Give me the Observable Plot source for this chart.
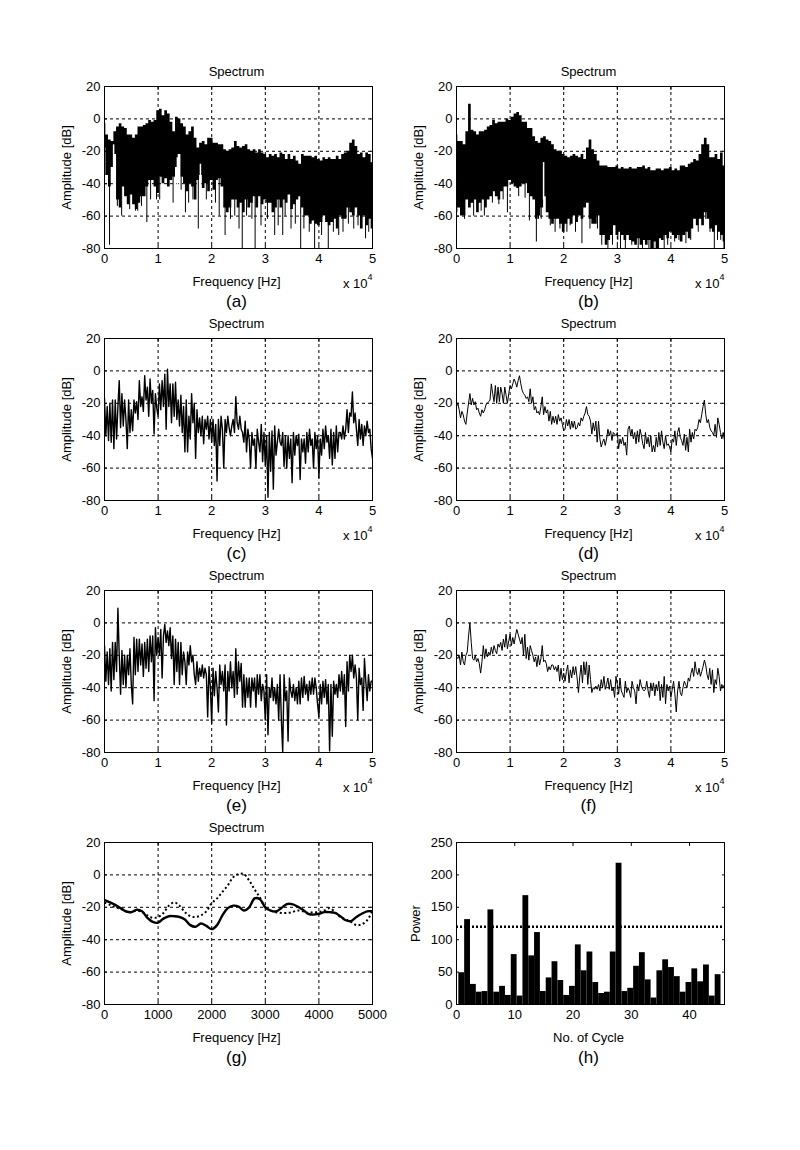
<!DOCTYPE html>
<html>
<head>
<meta charset="utf-8">
<script src="https://cdn.jsdelivr.net/npm/d3@7"></script>
<script src="https://cdn.jsdelivr.net/npm/@observablehq/plot@0.6"></script>
<style>
html,body{margin:0;padding:0;background:#fff}
#page{position:relative;width:800px;height:1150px;background:#fff;overflow:hidden}
#page svg{position:absolute;overflow:visible}
</style>
</head>
<body>
<div id="page"></div>
<script>
// Envelope values every 500 Hz, panel (a)
const aUpper = [-3,-10,-13,-14,-8,-5,-3,-5,-6,-10,-10,-12,-10,-5,-5,-4,-3,-1,-2,-1,5,6,2,5,3,-2,-8,1,0,-3,-5,-10,-8,-5,-12,-18,-15,-14,-16,-12,-12,-15,-15,-16,-16,-19,-20,-19,-18,-14,-17,-18,-17,-16,-19,-20,-19,-21,-19,-21,-22,-24,-22,-23,-22,-24,-21,-22,-25,-22,-25,-23,-26,-28,-22,-23,-23,-23,-24,-23,-25,-26,-24,-25,-24,-25,-25,-23,-25,-22,-21,-20,-15,-13,-17,-22,-21,-24,-21,-22,-27];
const aLower = [-18,-35,-42,-30,-22,-50,-55,-42,-48,-53,-47,-53,-56,-52,-48,-48,-42,-38,-38,-42,-46,-36,-40,-37,-42,-38,-36,-30,-22,-36,-40,-45,-40,-42,-50,-38,-35,-43,-40,-45,-38,-44,-38,-37,-42,-55,-58,-55,-50,-50,-55,-52,-58,-50,-55,-52,-48,-55,-48,-53,-50,-52,-52,-58,-55,-50,-55,-50,-52,-47,-56,-53,-50,-48,-55,-60,-60,-65,-63,-65,-66,-64,-60,-64,-66,-64,-62,-68,-60,-62,-62,-55,-58,-60,-55,-60,-68,-60,-66,-62,-68];
const aSpikeF = [940,7900,17500,15100,22500,25700,28100,31750,36600,39200,41750,43700,48700,21400,25100,27500,33250,34800,2400,3200,4700,5800,6200,6900,8600,9700,10300,12800,14300,15700,16500,19000,20700,23500,24300,26500,29200,30400,32400,33700,35600,37200,38200,40500,42700,44500,45500,46500,47300,49300];
const aSpikeV = [-78,-64,-68,-58,-72,-80,-80,-72,-80,-80,-80,-72,-74,-60,-68,-62,-72,-68,-54,-60,-56,-57,-57,-54,-50,-50,-50,-52,-44,-52,-50,-50,-52,-62,-60,-60,-66,-62,-66,-60,-65,-68,-70,-72,-70,-70,-65,-68,-66,-70];
const aNotchF = [1700,13600,17900];
const aNotchTop = [-16,-24,-28];
const aNotchBottom = [-42,-42,-50];

// Envelope values every 500 Hz, panel (b)
const bUpper = [-10,-14,-14,-16,-8,9,-7,-8,-10,-8,-8,-7,-5,-4,-1,-3,-2,-2,-2,0,-1,1,3,4,2,-2,-2,-6,-6,-11,-14,-15,-12,-11,-13,-14,-16,-19,-20,-20,-22,-23,-24,-23,-22,-23,-24,-22,-25,-18,-13,-19,-22,-26,-29,-29,-29,-30,-30,-30,-29,-31,-30,-31,-31,-30,-31,-31,-30,-30,-29,-31,-30,-32,-32,-31,-31,-32,-31,-31,-30,-32,-31,-32,-29,-29,-30,-28,-27,-25,-26,-22,-16,-12,-16,-24,-24,-22,-25,-21,-29];
const bLower = [-58,-55,-60,-60,-50,-55,-52,-50,-58,-52,-50,-55,-50,-48,-45,-48,-50,-45,-42,-42,-38,-40,-42,-43,-42,-40,-40,-46,-48,-50,-62,-60,-55,-48,-58,-62,-65,-62,-62,-65,-70,-65,-62,-65,-60,-64,-60,-62,-55,-52,-62,-65,-65,-60,-72,-72,-78,-75,-72,-66,-72,-70,-72,-75,-72,-75,-76,-78,-74,-78,-75,-78,-75,-80,-76,-80,-74,-75,-72,-74,-70,-72,-74,-72,-76,-72,-70,-74,-68,-62,-66,-62,-66,-58,-62,-68,-70,-66,-70,-72,-76];
const bSpikeF = [14900,13600,9500,23400,28250,38750,48100,49900,30600,35900,20600,15800,1500,3200,4600,5200,6700,7900,8700,11600,12800,15300,17500,18400,19300,21200,22200,24900,26300,27100,29100,30100,31500,32700,33900,34700,36800,37700,39400,40700,41500,42800,43700,45100,46500,47300,48700,49300];
const bSpikeV = [-76,-63,-58,-77,-80,-80,-80,-80,-80,-80,-70,-62,-62,-60,-57,-60,-52,-53,-50,-48,-49,-62,-66,-70,-68,-66,-70,-68,-68,-78,-78,-75,-80,-78,-80,-80,-80,-80,-78,-76,-75,-77,-75,-70,-62,-70,-75,-75];
const bNotchF = [16250];
const bNotchTop = [-27];
const bNotchBottom = [-50];

// Line values every 250 Hz
const cVals = [-17,-40,-22,-43,-20,-44,-18,-48,-18,-42,-22,-6,-35,-14,-34,-18,-30,-48,-18,-38,-24,-37,-18,-26,-19,-30,-6,-22,-16,-25,-3,-18,-10,-28,-5,-20,-12,-39,-14,-23,-28,-8,-24,-6,-22,-2,-36,1,-22,-8,-32,-8,-28,-7,-30,-18,-34,-15,-38,-22,-50,-18,-50,-28,-42,-14,-32,-20,-54,-24,-38,-29,-40,-28,-45,-30,-36,-28,-42,-30,-44,-30,-46,-33,-68,-30,-46,-28,-36,-60,-30,-38,-28,-35,-40,-34,-30,-38,-16,-32,-36,-28,-36,-38,-44,-31,-50,-36,-42,-60,-38,-46,-42,-60,-36,-44,-50,-33,-56,-38,-58,-40,-78,-38,-62,-37,-73,-34,-52,-44,-36,-44,-46,-38,-59,-40,-60,-40,-54,-42,-69,-38,-52,-40,-46,-39,-67,-42,-50,-42,-57,-38,-50,-36,-46,-42,-60,-38,-48,-40,-66,-42,-52,-36,-48,-34,-44,-40,-54,-36,-58,-38,-54,-34,-50,-38,-38,-42,-34,-42,-36,-24,-38,-26,-28,-13,-32,-26,-36,-46,-30,-42,-33,-46,-34,-40,-31,-38,-36,-48,-54];
const dVals = [-22,-20,-24,-29,-25,-27,-31,-33,-26,-20,-14,-21,-17,-21,-19,-24,-23,-26,-28,-24,-26,-24,-21,-20,-19,-18,-8,-14,-19,-9,-20,-10,-19,-10,-14,-20,-10,-15,-20,-14,-9,-11,-8,-5,-7,-10,-6,-3,-8,-12,-14,-15,-17,-16,-19,-11,-20,-16,-24,-22,-26,-25,-27,-22,-16,-27,-22,-26,-24,-31,-25,-33,-28,-32,-28,-33,-27,-31,-29,-33,-37,-36,-30,-34,-30,-36,-31,-35,-31,-36,-35,-32,-34,-29,-31,-28,-26,-22,-27,-28,-31,-39,-32,-37,-31,-44,-31,-42,-47,-44,-42,-46,-42,-36,-40,-37,-43,-38,-39,-40,-38,-48,-42,-45,-41,-46,-44,-52,-36,-34,-40,-36,-42,-38,-45,-37,-44,-36,-40,-45,-48,-38,-45,-41,-47,-40,-50,-46,-50,-41,-47,-38,-46,-37,-44,-48,-40,-46,-45,-47,-50,-42,-44,-37,-46,-38,-35,-41,-43,-46,-39,-49,-41,-50,-36,-44,-38,-42,-36,-37,-35,-30,-32,-27,-22,-18,-27,-32,-30,-35,-37,-38,-40,-33,-41,-29,-33,-38,-42,-38,-43];
const eVals = [-14,-36,-18,-38,-16,-42,-12,-35,-12,-30,9,-20,-44,-17,-38,-20,-40,-20,-32,-16,-38,-50,-9,-32,-10,-30,-10,-26,-13,-33,-12,-28,-10,-30,-8,-24,-8,-48,-3,-20,-9,-20,-4,-34,-8,-1,-12,-5,-14,-3,-22,-8,-38,-10,-30,-12,-38,-12,-32,-18,-24,-38,-18,-26,-14,-24,-20,-32,-38,-24,-36,-28,-33,-26,-34,-28,-32,-58,-27,-40,-62,-28,-45,-30,-40,-55,-26,-38,-30,-42,-26,-63,-30,-42,-24,-40,-30,-46,-16,-44,-24,-36,-25,-52,-32,-52,-34,-46,-34,-52,-34,-42,-34,-52,-32,-44,-32,-48,-38,-42,-60,-32,-69,-40,-46,-34,-48,-40,-50,-38,-60,-32,-60,-80,-32,-48,-42,-73,-34,-42,-46,-38,-48,-40,-50,-36,-50,-34,-46,-33,-44,-38,-48,-36,-44,-34,-44,-34,-40,-50,-58,-38,-50,-36,-46,-35,-50,-38,-79,-38,-70,-36,-44,-38,-46,-32,-42,-30,-44,-32,-64,-24,-42,-20,-30,-20,-34,-26,-34,-60,-28,-38,-34,-54,-22,-36,-48,-32,-42,-36,-36];
const fVals = [-21,-22,-20,-26,-18,-24,-26,-20,-18,-8,0,-12,-22,-23,-20,-24,-22,-25,-31,-24,-14,-22,-16,-21,-18,-20,-15,-19,-14,-17,-19,-13,-15,-12,-17,-10,-15,-7,-16,-11,-7,-14,-9,-13,-8,-4,-7,-10,-13,-9,-20,-7,-22,-15,-23,-14,-17,-20,-24,-21,-27,-20,-26,-22,-14,-24,-23,-25,-30,-27,-29,-26,-26,-29,-27,-30,-26,-36,-28,-35,-31,-36,-30,-26,-37,-29,-34,-27,-32,-27,-34,-43,-33,-26,-37,-24,-32,-24,-38,-26,-35,-43,-40,-41,-39,-41,-38,-42,-35,-40,-33,-41,-38,-34,-41,-35,-42,-40,-46,-33,-38,-44,-34,-42,-44,-46,-36,-43,-40,-42,-46,-36,-40,-42,-50,-38,-42,-35,-39,-41,-42,-41,-36,-42,-46,-37,-42,-37,-45,-38,-42,-36,-48,-38,-46,-33,-50,-38,-42,-39,-46,-41,-36,-44,-55,-42,-36,-43,-45,-40,-36,-38,-40,-34,-36,-31,-28,-33,-24,-30,-32,-28,-33,-30,-27,-23,-26,-32,-35,-28,-38,-29,-43,-35,-38,-28,-33,-42,-38,-40,-38];

// Line values every 100 Hz, panel (g)
const gSolid = [-15.5,-17,-18.5,-20.5,-22.5,-23,-21.5,-22.5,-26.5,-29,-29.5,-27,-25.5,-25.5,-26,-27.5,-31,-32,-30,-31.5,-33.5,-31,-25,-20.5,-19,-19.5,-22,-20,-14.5,-15,-20,-22,-22.5,-20.5,-18,-18,-19.5,-21.5,-24,-24.5,-24,-23,-23,-23.5,-25.5,-28,-28.5,-26,-24,-22.5,-22.5];
const gDotted = [-17,-18.5,-20,-21,-22.5,-23,-22,-23,-25,-26.5,-26,-23.5,-19,-17,-19,-23,-25.5,-26,-25,-22.5,-17.5,-14.5,-10.5,-6.5,-1.5,0.5,0.5,-3.5,-9,-14,-20,-22,-23,-23.5,-23.5,-23,-22,-22.5,-23.5,-23,-23,-22,-20.5,-23,-26,-27.5,-29,-31,-30.5,-28,-22];

// Bars, panel (h)
const hCycle = d3.range(1, 46);
const hPower = [49,131,31,19,20,146,19,28,14,77,13,168,75,111,20,41,66,37,14,28,92,52,81,34,17,19,81,218,20,25,59,80,38,10,52,69,57,43,19,34,55,35,61,13,46];
const hThreshold = 120;

const dbTicks = [-80,-60,-40,-20,0,20];
const hzTicks = [0,10000,20000,30000,40000,50000];
const lowTicks = [0,1000,2000,3000,4000,5000];
const cycleTicks = [0,10,20,30,40];
const powerTicks = [0,50,100,150,200,250];

const FONT = "'Liberation Sans', Arial, sans-serif";
const blank = () => "";

function tbl(arr, step) { return arr.map((v, i) => ({f: i * step, v})); }
function env(up, low) { return up.map((u, i) => ({f: i * 500, u, l: low[i]})); }

function axes(xTicks, yTicks, fmt, grid) {
  const m = [];
  if (grid) {
    const g = {stroke: "black", strokeOpacity: 1, strokeWidth: 1, strokeDasharray: "3,3"};
    m.push(Plot.gridX(xTicks.slice(1, -1), g));
    m.push(Plot.gridY(yTicks.slice(1, -1), g));
  }
  return {under: m, over: [
    Plot.axisX(xTicks, {anchor: "bottom", tickSize: -3, tickPadding: 8, tickFormat: fmt, label: null, fontSize: 13}),
    Plot.axisX(xTicks, {anchor: "top", tickSize: -3, tickFormat: blank, label: null}),
    Plot.axisY(yTicks, {anchor: "left", tickSize: -3, tickPadding: 7, tickFormat: String, label: null, fontSize: 13}),
    Plot.axisY(yTicks, {anchor: "right", tickSize: -3, tickFormat: blank, label: null}),
    Plot.frame({stroke: "black", strokeWidth: 1})
  ]};
}

function panel(col, row, o) {
  const a = axes(o.xTicks, o.yTicks, o.fmt, o.grid);
  const texts = [
    Plot.text([o.xLabel], {frameAnchor: "bottom", dx: -2, dy: 33, lineAnchor: "middle", fontSize: 13}),
    Plot.text([o.yLabel], {frameAnchor: "left", dx: o.yDx, rotate: -90, textAnchor: "middle", fontSize: 13}),
    Plot.text([o.caption], {frameAnchor: "bottom", dx: -2, dy: 53, lineAnchor: "middle", fontSize: 17})
  ];
  if (o.title) texts.push(Plot.text([o.title], {frameAnchor: "top", dx: -2, dy: -15, lineAnchor: "middle", fontSize: 13}));
  if (o.exp) {
    texts.push(Plot.text(["x 10"], {frameAnchor: "bottom-right", dx: -5, dy: 35, textAnchor: "end", lineAnchor: "middle", fontSize: 13}));
    texts.push(Plot.text(["4"], {frameAnchor: "bottom-right", dx: 0, dy: 29, textAnchor: "end", lineAnchor: "middle", fontSize: 9}));
  }
  const svg = Plot.plot({
    width: 352, height: 252,
    marginLeft: 52, marginRight: 32, marginTop: 32, marginBottom: 58,
    x: {domain: o.xDomain, label: null, axis: null},
    y: {domain: o.yDomain, label: null, axis: null},
    style: {fontFamily: FONT, fontSize: "13px", background: "transparent", color: "black", overflow: "visible"},
    marks: [...a.under, ...o.marks, ...a.over, ...texts]
  });
  svg.style.left = (col === 0 ? 52 : 404) + "px";
  svg.style.top = (54 + row * 252) + "px";
  document.getElementById("page").appendChild(svg);
}

const specBase = {xTicks: hzTicks, yTicks: dbTicks, fmt: d => String(d / 10000), grid: true, xDomain: [0, 50000], yDomain: [-80, 20],
  title: "Spectrum", xLabel: "Frequency [Hz]", yLabel: "Amplitude [dB]", yDx: -38, exp: true};

function envMarks(up, low, sf, sv, nf, nt, nb) {
  return [
    Plot.areaY(env(up, low), {x: "f", y1: "l", y2: "u", fill: "black", curve: "step", clip: true}),
    Plot.ruleX(sf.map((f, i) => ({f, v: sv[i]})), {x: "f", y1: "v", y2: -36, stroke: "black", strokeWidth: 1, clip: true}),
    Plot.ruleX(nf.map((f, i) => ({f, t: nt[i], b: nb[i]})), {x: "f", y1: "b", y2: "t", stroke: "white", strokeWidth: 1.5, clip: true})
  ];
}
function lineMark(vals, w) {
  return [Plot.line(tbl(vals, 250), {x: "f", y: "v", stroke: "black", strokeWidth: w, clip: true})];
}

panel(0, 0, {...specBase, caption: "(a)", marks: envMarks(aUpper, aLower, aSpikeF, aSpikeV, aNotchF, aNotchTop, aNotchBottom)});
panel(1, 0, {...specBase, caption: "(b)", marks: envMarks(bUpper, bLower, bSpikeF, bSpikeV, bNotchF, bNotchTop, bNotchBottom)});
panel(0, 1, {...specBase, caption: "(c)", marks: lineMark(cVals, 1.4)});
panel(1, 1, {...specBase, caption: "(d)", marks: lineMark(dVals, 1)});
panel(0, 2, {...specBase, caption: "(e)", marks: lineMark(eVals, 1.4)});
panel(1, 2, {...specBase, caption: "(f)", marks: lineMark(fVals, 1)});
panel(0, 3, {...specBase, caption: "(g)", exp: false, xTicks: lowTicks, fmt: d => String(d), xDomain: [0, 5000],
  marks: [
    Plot.line(tbl(gDotted, 100), {x: "f", y: "v", stroke: "black", strokeWidth: 2, strokeDasharray: "2,2.5", strokeLinecap: "butt", curve: "catmull-rom", clip: true}),
    Plot.line(tbl(gSolid, 100), {x: "f", y: "v", stroke: "black", strokeWidth: 2.4, curve: "catmull-rom", clip: true})
  ]});
panel(1, 3, {xTicks: cycleTicks, yTicks: powerTicks, fmt: d => String(d), grid: false, xDomain: [0, 46], yDomain: [0, 250],
  xLabel: "No. of Cycle", yLabel: "Power", yDx: -41, caption: "(h)",
  marks: [
    Plot.rectY(hCycle.map((c, i) => ({c, p: hPower[i]})), {x1: d => d.c - 0.6, x2: d => d.c + 0.4, y1: 0, y2: "p", fill: "black"}),
    Plot.ruleY([hThreshold], {stroke: "black", strokeWidth: 2.4, strokeDasharray: "2,2", strokeLinecap: "butt"})
  ]});
</script>
</body>
</html>
